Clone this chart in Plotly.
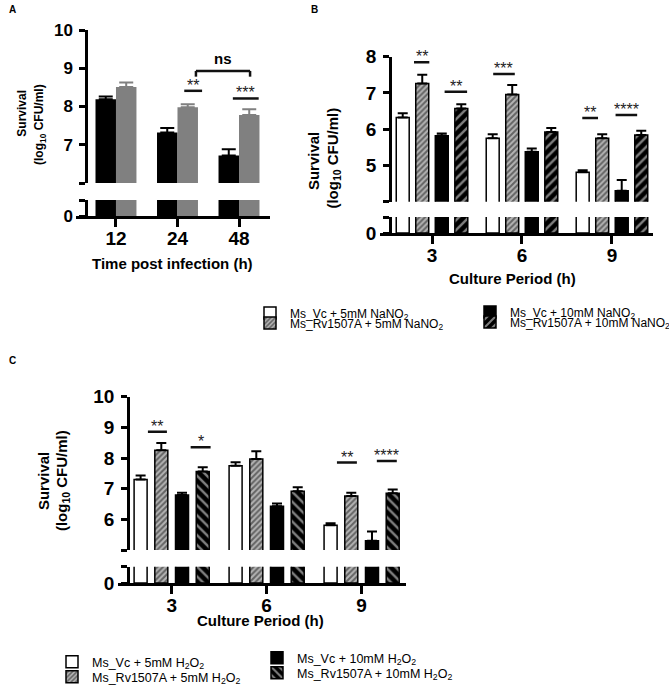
import plotly.graph_objects as go

W, H = 669, 685
FONT = "Arial, 'Liberation Sans', sans-serif"

# ---------------- data ----------------
# Panel A
a_times = ['12', '24', '48']
a_names = ['Vc', 'Rv1507A']
a_vc = [8.19, 7.32, 6.72]
a_vc_err = [0.07, 0.12, 0.16]
a_rv = [8.51, 7.98, 7.78]
a_rv_err = [0.12, 0.08, 0.15]
a_sig_labels = ['**', '***']
a_sig_cat = [1, 2]
a_sig_x0 = [0.11, -0.10]
a_sig_x1 = [0.40, 0.32]
a_sig_y = [8.41, 8.21]
a_ns_label = 'ns'
a_ns_from = [1, 0.30]   # category, offset
a_ns_to = [2, 0.18]
a_ns_top = 8.93
a_ns_end = 8.78

# Panel B
b_periods = ['3', '6', '9']
b_names = ['Ms_Vc + 5mM NaNO<sub>2</sub>', 'Ms_Rv1507A + 5mM NaNO<sub>2</sub>',
           'Ms_Vc + 10mM NaNO<sub>2</sub>', 'Ms_Rv1507A + 10mM NaNO<sub>2</sub>']
b_vc5 = [6.32, 5.75, 4.81]
b_vc5_err = [0.12, 0.11, 0.06]
b_rv5 = [7.26, 6.96, 5.75]
b_rv5_err = [0.24, 0.26, 0.11]
b_vc10 = [5.82, 5.38, 4.30]
b_vc10_err = [0.06, 0.09, 0.30]
b_rv10 = [6.57, 5.92, 5.84]
b_rv10_err = [0.12, 0.11, 0.12]
b_sig_labels = ['**', '**', '***', '**', '****']
b_sig_cat = [0, 0, 1, 2, 2]
b_sig_x0 = [-0.20, 0.14, -0.32, -0.33, 0.04]
b_sig_x1 = [-0.03, 0.39, -0.08, -0.155, 0.28]
b_sig_y = [7.85, 7.03, 7.52, 6.31, 6.39]

# Panel C
c_periods = ['3', '6', '9']
c_names = ['Ms_Vc + 5mM H<sub>2</sub>O<sub>2</sub>', 'Ms_Rv1507A + 5mM H<sub>2</sub>O<sub>2</sub>',
           'Ms_Vc + 10mM H<sub>2</sub>O<sub>2</sub>', 'Ms_Rv1507A + 10mM H<sub>2</sub>O<sub>2</sub>']
c_vc5 = [7.30, 7.75, 5.81]
c_vc5_err = [0.13, 0.11, 0.06]
c_rv5 = [8.25, 7.97, 6.76]
c_rv5_err = [0.24, 0.25, 0.11]
c_vc10 = [6.79, 6.43, 5.30]
c_vc10_err = [0.08, 0.09, 0.30]
c_rv10 = [7.56, 6.92, 6.85]
c_rv10_err = [0.14, 0.13, 0.12]
c_sig_labels = ['**', '*', '**', '****']
c_sig_cat = [0, 0, 2, 2]
c_sig_x0 = [-0.25, 0.20, -0.26, 0.16]
c_sig_x1 = [-0.05, 0.41, -0.05, 0.37]
c_sig_y = [8.86, 8.35, 7.85, 7.90]


def fx(p):
    return p / W


def fy(p):
    return 1 - p / H


fig = go.Figure()

# ---------------- styles ----------------
a_styles = [
    dict(marker=dict(color='#000000', line=dict(width=0)), err_color='#000000'),
    dict(marker=dict(color='#808080', line=dict(width=0)), err_color='#808080'),
]
four_styles_b = [
    dict(marker=dict(color='white', line=dict(color='black', width=1.5))),
    dict(marker=dict(color='#b4b4b4', line=dict(color='black', width=1.5),
                     pattern=dict(shape='/', fgcolor='#111111', bgcolor='#b4b4b4', size=4, solidity=0.5))),
    dict(marker=dict(color='black', line=dict(color='black', width=1.5))),
    dict(marker=dict(color='black', line=dict(color='black', width=1.5),
                     pattern=dict(shape='/', fgcolor='white', bgcolor='black', size=7, solidity=0.35))),
]
four_styles_c = [
    dict(marker=dict(color='white', line=dict(color='black', width=1.5))),
    dict(marker=dict(color='#b4b4b4', line=dict(color='black', width=1.5),
                     pattern=dict(shape='/', fgcolor='#111111', bgcolor='#b4b4b4', size=4, solidity=0.5))),
    dict(marker=dict(color='black', line=dict(color='black', width=1.5))),
    dict(marker=dict(color='black', line=dict(color='black', width=1.5),
                     pattern=dict(shape='\\', fgcolor='white', bgcolor='black', size=7, solidity=0.35))),
]


def add_bars(values, errs, xname_lo, yname_lo, xname_hi, yname_hi, offset, width, style,
             name, legend=None, errw=5):
    xs = list(range(len(values)))
    err_color = style.get('err_color', 'black')
    # lower (0) segment
    fig.add_trace(go.Bar(x=xs, y=values, xaxis=xname_lo, yaxis=yname_lo, offset=offset, width=width,
                         marker=style['marker'], showlegend=False, hoverinfo='skip', name=name))
    # upper segment
    fig.add_trace(go.Bar(x=xs, y=values, xaxis=xname_hi, yaxis=yname_hi, offset=offset, width=width,
                         marker=style['marker'], name=name,
                         showlegend=legend is not None, legend=legend if legend else 'legend',
                         error_y=dict(type='data', array=errs, arrayminus=[0] * len(errs), symmetric=False,
                                      color=err_color, thickness=2, width=errw)))


# Panel A bars
aw = 0.333
add_bars(a_vc, a_vc_err, 'x', 'y', 'x2', 'y2', -aw, aw, a_styles[0], a_names[0], errw=7)
add_bars(a_rv, a_rv_err, 'x', 'y', 'x2', 'y2', 0.0, aw, a_styles[1], a_names[1], errw=7)

# Panel B bars
bw_, bs_ = 0.144, 0.217
for i, (v, e) in enumerate([(b_vc5, b_vc5_err), (b_rv5, b_rv5_err), (b_vc10, b_vc10_err), (b_rv10, b_rv10_err)]):
    c = (i - 1.5) * bs_
    add_bars(v, e, 'x3', 'y3', 'x4', 'y4', c - bw_ / 2, bw_, four_styles_b[i], b_names[i],
             legend=['legend', 'legend2', 'legend3', 'legend4'][i])

# Panel C bars
cw_, cs_ = 0.137, 0.218
for i, (v, e) in enumerate([(c_vc5, c_vc5_err), (c_rv5, c_rv5_err), (c_vc10, c_vc10_err), (c_rv10, c_rv10_err)]):
    c = (i - 1.5) * cs_
    add_bars(v, e, 'x5', 'y5', 'x6', 'y6', c - cw_ / 2, cw_, four_styles_c[i], c_names[i],
             legend=['legend5', 'legend6', 'legend7', 'legend8'][i])

# ---------------- axes ----------------
def yax(domain, pos, rng, tickvals, ticktext, size):
    return dict(domain=domain, anchor='free', position=pos, range=rng, tickvals=tickvals, ticktext=ticktext,
                showline=True, linewidth=2.5, linecolor='black', ticks='outside', ticklen=6, tickwidth=2.5,
                tickcolor='black', showgrid=False, zeroline=False, ticklabelstandoff=3,
                tickfont=dict(family=FONT, size=size, color='black', weight='bold'))


def xax(domain, rng, labels, anchor, size):
    return dict(domain=domain, range=rng, anchor=anchor, tickvals=list(range(len(labels))), ticktext=labels,
                showline=True, linewidth=2.5, linecolor='black', ticks='outside', ticklen=8, tickwidth=2.5,
                tickcolor='black', showgrid=False, zeroline=False, ticklabelstandoff=-5,
                tickfont=dict(family=FONT, size=size, color='black', weight='bold'))


def xhid(domain, rng, anchor):
    return dict(domain=domain, range=rng, anchor=anchor, visible=False, showgrid=False, zeroline=False)


a_xd = [fx(76), fx(270)]
a_xr = [-0.650, 2.504]
b_xd = [fx(380), fx(653)]
b_xr = [-0.578, 2.456]
c_xd = [fx(118), fx(406)]
c_xr = [-0.565, 2.467]

fig.update_layout(
    xaxis=xax(a_xd, a_xr, a_times, 'y', 19),
    xaxis2=xhid(a_xd, a_xr, 'y2'),
    yaxis=yax([fy(216), fy(200)], fx(86), [0, 1], [0, 1], ['0', ''], 17),
    yaxis2=yax([fy(183), fy(30)], fx(86), [6, 10], [6, 7, 8, 9, 10], ['', '7', '8', '9', '10'], 17),
    xaxis3=xax(b_xd, b_xr, b_periods, 'y3', 19),
    xaxis4=xhid(b_xd, b_xr, 'y4'),
    yaxis3=yax([fy(233), fy(217)], fx(390), [0, 1], [0, 1], ['0', ''], 19),
    yaxis4=yax([fy(201.7), fy(56.7)], fx(390), [4, 8], [4, 5, 6, 7, 8], ['', '5', '6', '7', '8'], 19),
    xaxis5=xax(c_xd, c_xr, c_periods, 'y5', 19),
    xaxis6=xhid(c_xd, c_xr, 'y6'),
    yaxis5=yax([fy(583), fy(566.7)], fx(128), [0, 1], [0, 1], ['0', ''], 19),
    yaxis6=yax([fy(550), fy(396.7)], fx(128), [5, 10], [5, 6, 7, 8, 9, 10], ['', '6', '7', '8', '9', '10'], 19),
)

# ---------------- legends ----------------
leg_pos = {
    'legend': (250, 313), 'legend2': (250, 323), 'legend3': (470, 312), 'legend4': (470, 322),
    'legend5': (52, 662), 'legend6': (52, 677), 'legend7': (257, 658), 'legend8': (257, 673),
}
for k, (lx, ly) in leg_pos.items():
    fs = 12 if k in ('legend', 'legend2', 'legend3', 'legend4') else 12.5
    fig.update_layout({k: dict(x=fx(lx), y=fy(ly), xanchor='left', yanchor='middle', bgcolor='rgba(0,0,0,0)',
                               borderwidth=0, font=dict(family=FONT, size=fs, color='black'))})

# ---------------- annotations ----------------
ann = []
shapes = []


def txt(x, y, text, size, bold=True, angle=0, xanchor='center', yanchor='middle'):
    ann.append(dict(x=fx(x), y=fy(y), xref='paper', yref='paper', text=text, showarrow=False, textangle=angle,
                    xanchor=xanchor, yanchor=yanchor,
                    font=dict(family=FONT, size=size, color='black', weight='bold' if bold else 'normal')))


txt(12, 10, 'A', 10)
txt(314, 9, 'B', 10)
txt(12, 360, 'C', 10)
txt(21.7, 113, 'Survival', 12, angle=-90)
txt(40, 125, '(log<sub>10</sub> CFU/ml)', 12, angle=-90)
txt(313.3, 160.8, 'Survival', 15, angle=-90)
txt(333.3, 158.3, '(log<sub>10</sub> CFU/ml)', 15, angle=-90)
txt(43.3, 480.8, 'Survival', 15, angle=-90)
txt(62.3, 480.8, '(log<sub>10</sub> CFU/ml)', 15, angle=-90)
txt(172.5, 263.3, 'Time post infection (h)', 15)
txt(512.5, 278, 'Culture Period (h)', 15)
txt(260, 620.7, 'Culture Period (h)', 15)


def sig(labels, cats, x0s, x1s, ys, xref, yref):
    for lab, c, a, b, y in zip(labels, cats, x0s, x1s, ys):
        shapes.append(dict(type='line', xref=xref, yref=yref, x0=c + a, x1=c + b, y0=y, y1=y,
                           line=dict(color='#111111', width=2.5)))
        ann.append(dict(x=c + (a + b) / 2, y=y, xref=xref, yref=yref, text=lab, showarrow=False,
                        yanchor='bottom', yshift=-5,
                        font=dict(family=FONT, size=16, color='#222222')))


sig(a_sig_labels, a_sig_cat, a_sig_x0, a_sig_x1, a_sig_y, 'x', 'y2')
sig(b_sig_labels, b_sig_cat, b_sig_x0, b_sig_x1, b_sig_y, 'x3', 'y4')
sig(c_sig_labels, c_sig_cat, c_sig_x0, c_sig_x1, c_sig_y, 'x5', 'y6')

# ns bracket
nx0 = a_ns_from[0] + a_ns_from[1]
nx1 = a_ns_to[0] + a_ns_to[1]
for (x0, y0, x1, y1) in [(nx0, a_ns_top, nx1, a_ns_top), (nx0, a_ns_top, nx0, a_ns_end), (nx1, a_ns_top, nx1, a_ns_end)]:
    shapes.append(dict(type='line', xref='x', yref='y2', x0=x0, x1=x1, y0=y0, y1=y1,
                       line=dict(color='#111111', width=2.5)))
ann.append(dict(x=(nx0 + nx1) / 2, y=a_ns_top, xref='x', yref='y2', text=a_ns_label, showarrow=False,
                yanchor='bottom', yshift=2, font=dict(family=FONT, size=15, color='black', weight='bold')))

fig.update_layout(annotations=ann, shapes=shapes, width=W, height=H,
                  margin=dict(l=0, r=0, t=0, b=0, autoexpand=False),
                  paper_bgcolor='white', plot_bgcolor='rgba(0,0,0,0)', barmode='overlay',
                  font=dict(family=FONT, color='black'))

fig.write_html("out.html", config={'displayModeBar': False},
               post_script="document.body.style.margin='0px';")
